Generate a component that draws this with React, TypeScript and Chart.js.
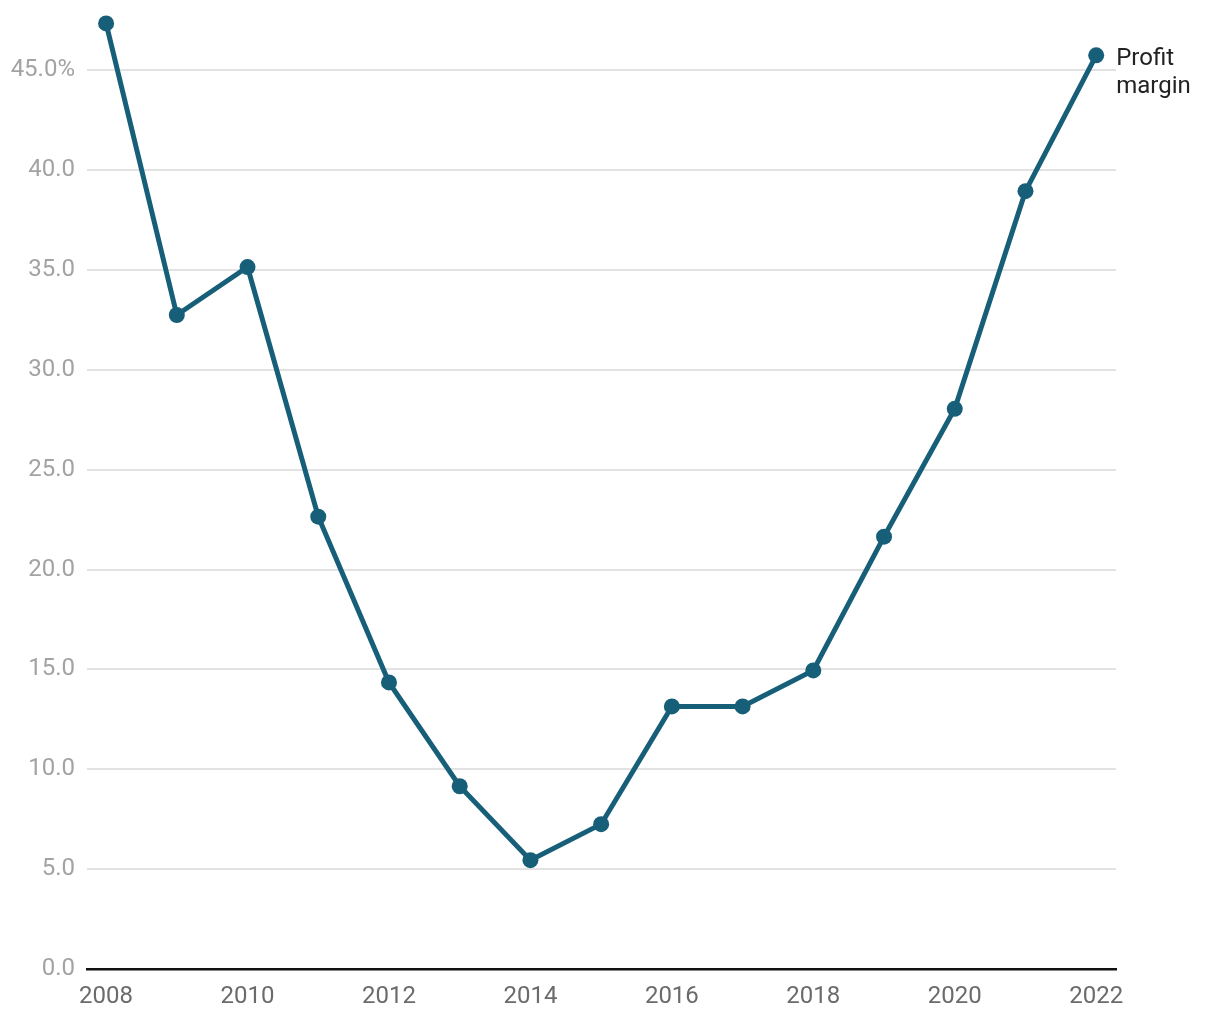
import React, { useEffect, useRef } from "react";
import { Chart, registerables } from "chart.js";

Chart.register(...registerables);

const years = [2008, 2009, 2010, 2011, 2012, 2013, 2014, 2015, 2016, 2017, 2018, 2019, 2020, 2021, 2022];
const profitMargin = [47.35, 32.75, 35.15, 22.65, 14.35, 9.15, 5.45, 7.25, 13.15, 13.15, 14.95, 21.65, 28.05, 38.95, 45.75];
const xTickValues = [2008, 2010, 2012, 2014, 2016, 2018, 2020, 2022];
const yTickValues = [0, 5, 10, 15, 20, 25, 30, 35, 40, 45];
const seriesLabel = ["Profit", "margin"];

const LINE_COLOR = "#175f79";
const FONT = "Roboto";
const FS = 24;

export default function App() {
  const ref = useRef<HTMLCanvasElement | null>(null);

  useEffect(() => {
    if (!ref.current) return;
    const labelPlugin = {
      id: "endLabel",
      afterDatasetsDraw(chart: any) {
        const meta = chart.getDatasetMeta(0);
        const last = meta.data[meta.data.length - 1];
        if (!last) return;
        const ctx = chart.ctx;
        ctx.save();
        ctx.font = `${FS}px ${FONT}`;
        ctx.fillStyle = "#222222";
        ctx.textAlign = "left";
        ctx.textBaseline = "middle";
        seriesLabel.forEach((t, i) => {
          ctx.fillText(t, last.x + 20, last.y + 4 + i * 28);
        });
        ctx.restore();
      },
    };
    const chart = new Chart(ref.current, {
      type: "line",
      data: {
        datasets: [
          {
            label: "Profit margin",
            data: years.map((y, i) => ({ x: y, y: profitMargin[i] })),
            borderColor: LINE_COLOR,
            backgroundColor: LINE_COLOR,
            borderWidth: 5,
            pointRadius: 8,
            pointBackgroundColor: LINE_COLOR,
            pointBorderWidth: 0,
            tension: 0,
            clip: false as any,
          },
        ],
      },
      options: {
        animation: false,
        responsive: false,
        maintainAspectRatio: false,
        layout: { padding: { left: 0, right: 104, top: 0, bottom: 0 } },
        plugins: {
          legend: { display: false },
          tooltip: { enabled: false },
        },
        scales: {
          x: {
            type: "linear",
            min: 2007.73,
            max: 2022.28,
            afterBuildTicks: (scale: any) => {
              scale.ticks = xTickValues.map((v) => ({ value: v }));
            },
            afterFit: (scale: any) => {
              scale.height = 51;
            },
            ticks: {
              color: "#6b6b6b",
              font: { family: FONT, size: FS },
              padding: 14,
              maxRotation: 0,
              autoSkip: false,
              callback: (v: any) => String(v),
            },
            grid: { display: false, drawTicks: false },
            border: { display: true, color: "#111111", width: 2.5 },
          },
          y: {
            min: 0,
            max: 47.2,
            afterBuildTicks: (scale: any) => {
              scale.ticks = yTickValues.map((v) => ({ value: v }));
            },
            afterFit: (scale: any) => {
              scale.width = 87;
            },
            ticks: {
              color: "#a3a3a3",
              font: { family: FONT, size: FS },
              padding: 12,
              callback: (v: any) => (v === 45 ? "45.0%" : Number(v).toFixed(1)),
            },
            grid: { color: "#e2e2e2", lineWidth: 2, drawTicks: false },
            border: { display: false },
          },
        },
      },
      plugins: [labelPlugin],
    } as any);
    return () => chart.destroy();
  }, []);

  return (
    <div style={{ position: "absolute", left: 0, top: 0, width: 1220, height: 1020, background: "#fff" }}>
      <canvas ref={ref} width={1220} height={1020} style={{ display: "block" }} />
    </div>
  );
}
